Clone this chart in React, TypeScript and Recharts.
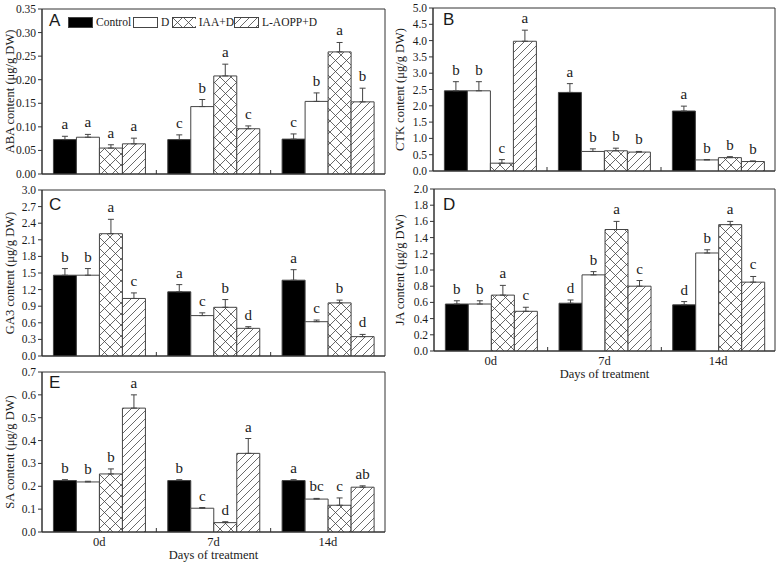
import React from "react";
import { BarChart, Bar, XAxis, YAxis, ErrorBar, LabelList, Legend, ReferenceArea } from "recharts";

const days = ["0d", "7d", "14d"];
const treatments = ["Control", "D", "IAA+D", "L-AOPP+D"];
const fills = ["#000000", "#ffffff", "url(#crossHatch)", "url(#slashHatch)"];

// rows = day, columns = treatment
const abaMean = [
  [0.073, 0.078, 0.055, 0.064],
  [0.073, 0.143, 0.208, 0.096],
  [0.074, 0.154, 0.259, 0.153],
];
const abaErr = [
  [0.007, 0.006, 0.007, 0.012],
  [0.01, 0.015, 0.025, 0.006],
  [0.011, 0.018, 0.02, 0.029],
];
const abaSig = [
  ["a", "a", "a", "a"],
  ["c", "b", "a", "c"],
  ["c", "b", "a", "b"],
];

const ctkMean = [
  [2.46, 2.46, 0.24, 3.98],
  [2.41, 0.6, 0.62, 0.58],
  [1.84, 0.34, 0.41, 0.29],
];
const ctkErr = [
  [0.28, 0.28, 0.11, 0.34],
  [0.27, 0.08, 0.08, 0.02],
  [0.15, 0.01, 0.03, 0.02],
];
const ctkSig = [
  ["b", "b", "c", "a"],
  ["a", "b", "b", "b"],
  ["a", "b", "b", "b"],
];

const gaMean = [
  [1.46, 1.46, 2.21, 1.04],
  [1.16, 0.73, 0.88, 0.5],
  [1.37, 0.62, 0.96, 0.35],
];
const gaErr = [
  [0.12, 0.12, 0.26, 0.1],
  [0.13, 0.05, 0.14, 0.03],
  [0.19, 0.03, 0.05, 0.04],
];
const gaSig = [
  ["b", "b", "a", "c"],
  ["a", "c", "b", "d"],
  ["a", "c", "b", "d"],
];

const jaMean = [
  [0.58, 0.58, 0.69, 0.49],
  [0.59, 0.94, 1.5, 0.8],
  [0.57, 1.21, 1.56, 0.85],
];
const jaErr = [
  [0.04, 0.04, 0.12, 0.05],
  [0.04, 0.04, 0.1, 0.07],
  [0.04, 0.04, 0.04, 0.07],
];
const jaSig = [
  ["b", "b", "a", "c"],
  ["d", "b", "a", "c"],
  ["d", "b", "a", "c"],
];

const saMean = [
  [0.225, 0.219, 0.254, 0.542],
  [0.225, 0.104, 0.041, 0.344],
  [0.225, 0.144, 0.117, 0.196],
];
const saErr = [
  [0.004, 0.003, 0.022, 0.058],
  [0.004, 0.003, 0.004, 0.065],
  [0.004, 0.003, 0.032, 0.006],
];
const saSig = [
  ["b", "b", "b", "a"],
  ["b", "c", "d", "a"],
  ["a", "bc", "c", "ab"],
];

const abaTicks = [0, 0.05, 0.1, 0.15, 0.2, 0.25, 0.3, 0.35];
const ctkTicks = [0, 0.5, 1, 1.5, 2, 2.5, 3, 3.5, 4, 4.5, 5];
const gaTicks = [0, 0.3, 0.6, 0.9, 1.2, 1.5, 1.8, 2.1, 2.4, 2.7, 3];
const jaTicks = [0, 0.2, 0.4, 0.6, 0.8, 1, 1.2, 1.4, 1.6, 1.8, 2];
const saTicks = [0, 0.1, 0.2, 0.3, 0.4, 0.5, 0.6, 0.7];

const serif = "'Liberation Serif', 'Times New Roman', serif";
const sans = "'Liberation Sans', Arial, sans-serif";
const ink = "#333";
const textColor = "#1a1a1a";

function buildRows(mean: number[][], err: number[][], sig: string[][]) {
  return days.map((day, i) => {
    const row: any = { day };
    treatments.forEach((_, j) => {
      row[`v${j}`] = mean[i][j];
      row[`e${j}`] = [0, err[i][j]];
      row[`l${j}`] = sig[i][j];
    });
    return row;
  });
}

// letter sits above the error bar; px per unit comes from the bar's own height
const sigLabel = (rows: any[], j: number) => (props: any) => {
  const vb = props.viewBox || props;
  const row = rows[props.index];
  if (!row || !vb) return null;
  const v = row[`v${j}`];
  const e = row[`e${j}`][1];
  const top = vb.y - (vb.height / v) * e;
  return (
    <text
      x={vb.x + vb.width / 2}
      y={top - 7}
      textAnchor="middle"
      fontFamily={serif}
      fontSize={15}
      fill={textColor}
    >
      {row[`l${j}`]}
    </text>
  );
};

// category tick: optional day label + small inward mark at the band edge
const dayTick = (showDays: boolean) => (props: any) => {
  const { x, y, payload, index } = props;
  let half = payload && payload.offset ? payload.offset : 0;
  if (!half && props.width) half = props.width / (2 * days.length);
  return (
    <g>
      {index < days.length - 1 && half > 0 && (
        <line x1={x + half} x2={x + half} y1={y} y2={y - 4} stroke={ink} strokeWidth={1} />
      )}
      {showDays && (
        <text
          x={x}
          y={y + 10}
          textAnchor="middle"
          dominantBaseline="central"
          fontFamily={serif}
          fontSize={12.5}
          fill={textColor}
        >
          {payload.value}
        </text>
      )}
    </g>
  );
};

const valueTick = (digits: number) => (props: any) => (
  <text
    x={props.x}
    y={props.y}
    textAnchor="end"
    dominantBaseline="central"
    fontFamily={serif}
    fontSize={11.5}
    fill={textColor}
  >
    {Number(props.payload.value).toFixed(digits)}
  </text>
);

const legendWidths = [65, 39, 62, 90];

const renderLegend = (props: any) => (
  <div
    style={{
      display: "flex",
      fontFamily: serif,
      fontSize: 11.5,
      lineHeight: "12px",
      color: textColor,
      whiteSpace: "nowrap",
    }}
  >
    {(props.payload || []).map((it: any, i: number) => (
      <div key={i} style={{ display: "flex", alignItems: "center", width: legendWidths[i] }}>
        <svg width={25} height={11} style={{ display: "block" }}>
          <rect
            x={0.5}
            y={0.5}
            width={24}
            height={10}
            fill={fills[treatments.indexOf(it.value)]}
            stroke="#444"
          />
        </svg>
        <span style={{ marginLeft: 3 }}>{it.value}</span>
      </div>
    ))}
  </div>
);

type PanelProps = {
  tag: string;
  title: string;
  rows: any[];
  ticks: number[];
  digits: number;
  left: number;
  top: number;
  width: number;
  height: number;
  margin: { top: number; right: number; bottom: number; left: number };
  yWidth: number;
  xHeight: number;
  tagPos: [number, number];
  showDays?: boolean;
  legend?: boolean;
};

function Panel(p: PanelProps) {
  const max = p.ticks[p.ticks.length - 1];
  return (
    <div style={{ position: "absolute", left: p.left, top: p.top }}>
      <BarChart
        width={p.width}
        height={p.height}
        data={p.rows}
        margin={p.margin}
        barCategoryGap="10%"
        barGap={0}
        style={{ overflow: "visible" }}
      >
        <XAxis
          xAxisId="cat"
          dataKey="day"
          height={p.xHeight}
          tick={dayTick(!!p.showDays)}
          tickLine={false}
          tickSize={0}
          tickMargin={0}
          interval={0}
          stroke={ink}
          label={
            p.showDays
              ? (lp: any) => {
                  const vb = lp.viewBox;
                  return (
                    <text
                      x={vb.x + vb.width / 2}
                      y={vb.y + 23}
                      textAnchor="middle"
                      dominantBaseline="central"
                      fontFamily={serif}
                      fontSize={12.5}
                      fill={textColor}
                    >
                      Days of treatment
                    </text>
                  );
                }
              : undefined
          }
        />
        <YAxis
          yAxisId="val"
          domain={[0, max]}
          ticks={p.ticks}
          interval={0}
          allowDataOverflow
          width={p.yWidth}
          tickSize={4}
          tickMargin={2}
          stroke={ink}
          tick={valueTick(p.digits)}
          label={(lp: any) => {
            const vb = lp.viewBox;
            const cx = vb.x + 10;
            const cy = vb.y + vb.height / 2;
            return (
              <text
                x={cx}
                y={cy}
                transform={`rotate(-90, ${cx}, ${cy})`}
                textAnchor="middle"
                dominantBaseline="central"
                fontFamily={serif}
                fontSize={12.5}
                fill={textColor}
              >
                {p.title}
              </text>
            );
          }}
        />
        <ReferenceArea
          xAxisId="cat"
          yAxisId="val"
          y1={0}
          y2={max}
          fill="none"
          fillOpacity={0}
          stroke={ink}
          strokeWidth={1}
        />
        {p.legend && (
          <Legend
            layout="horizontal"
            verticalAlign="middle"
            align="center"
            wrapperStyle={{ left: 68, top: 16, width: "auto", height: "auto" }}
            content={renderLegend}
          />
        )}
        {treatments.map((name, j) => (
          <Bar
            key={name}
            xAxisId="cat"
            yAxisId="val"
            dataKey={`v${j}`}
            name={name}
            fill={fills[j]}
            stroke="#444"
            strokeWidth={1}
            isAnimationActive={false}
          >
            <ErrorBar dataKey={`e${j}`} direction="y" width={3} stroke="#444" strokeWidth={1} />
            <LabelList dataKey={`l${j}`} content={sigLabel(p.rows, j)} />
          </Bar>
        ))}
      </BarChart>
      <div
        style={{
          position: "absolute",
          left: p.tagPos[0],
          top: p.tagPos[1],
          fontFamily: sans,
          fontSize: 17,
          lineHeight: 1,
          color: textColor,
        }}
      >
        {p.tag}
      </div>
    </div>
  );
}

export default function App() {
  return (
    <div
      style={{
        position: "absolute",
        left: 0,
        top: 0,
        width: 778,
        height: 563,
        background: "#ffffff",
      }}
    >
      <svg width={0} height={0} style={{ position: "absolute" }}>
        <defs>
          <pattern id="crossHatch" width={11} height={11} patternUnits="userSpaceOnUse">
            <rect width={11} height={11} fill="#ffffff" />
            <path d="M0,0 L11,11 M11,0 L0,11" stroke="#444" strokeWidth={0.8} />
          </pattern>
          <pattern id="slashHatch" width={8} height={8} patternUnits="userSpaceOnUse">
            <rect width={8} height={8} fill="#ffffff" />
            <path d="M-2,2 L2,-2 M0,8 L8,0 M6,10 L10,6" stroke="#444" strokeWidth={0.8} />
          </pattern>
        </defs>
      </svg>
      <Panel
        tag="A"
        title="ABA content (μg/g DW)"
        rows={buildRows(abaMean, abaErr, abaSig)}
        ticks={abaTicks}
        digits={2}
        left={0}
        top={0}
        width={390}
        height={188}
        margin={{ top: 9, right: 5, bottom: 0, left: 0 }}
        yWidth={42}
        xHeight={14}
        tagPos={[49, 12]}
        legend
      />
      <Panel
        tag="B"
        title="CTK content (μg/g DW)"
        rows={buildRows(ctkMean, ctkErr, ctkSig)}
        ticks={ctkTicks}
        digits={1}
        left={390}
        top={0}
        width={388}
        height={186}
        margin={{ top: 8, right: 3, bottom: 0, left: 0 }}
        yWidth={43}
        xHeight={15}
        tagPos={[53, 11]}
      />
      <Panel
        tag="C"
        title="GA3 content (μg/g DW)"
        rows={buildRows(gaMean, gaErr, gaSig)}
        ticks={gaTicks}
        digits={1}
        left={0}
        top={182}
        width={390}
        height={188}
        margin={{ top: 8, right: 5, bottom: 0, left: 0 }}
        yWidth={42}
        xHeight={14}
        tagPos={[49, 14]}
      />
      <Panel
        tag="D"
        title="JA content (μg/g DW)"
        rows={buildRows(jaMean, jaErr, jaSig)}
        ticks={jaTicks}
        digits={1}
        left={390}
        top={182}
        width={388}
        height={199}
        margin={{ top: 7, right: 3, bottom: 0, left: 0 }}
        yWidth={44}
        xHeight={30}
        tagPos={[53, 14]}
        showDays
      />
      <Panel
        tag="E"
        title="SA content (μg/g DW)"
        rows={buildRows(saMean, saErr, saSig)}
        ticks={saTicks}
        digits={1}
        left={0}
        top={364}
        width={390}
        height={198}
        margin={{ top: 8, right: 5, bottom: 0, left: 0 }}
        yWidth={42}
        xHeight={30}
        tagPos={[49, 10]}
        showDays
      />
    </div>
  );
}
